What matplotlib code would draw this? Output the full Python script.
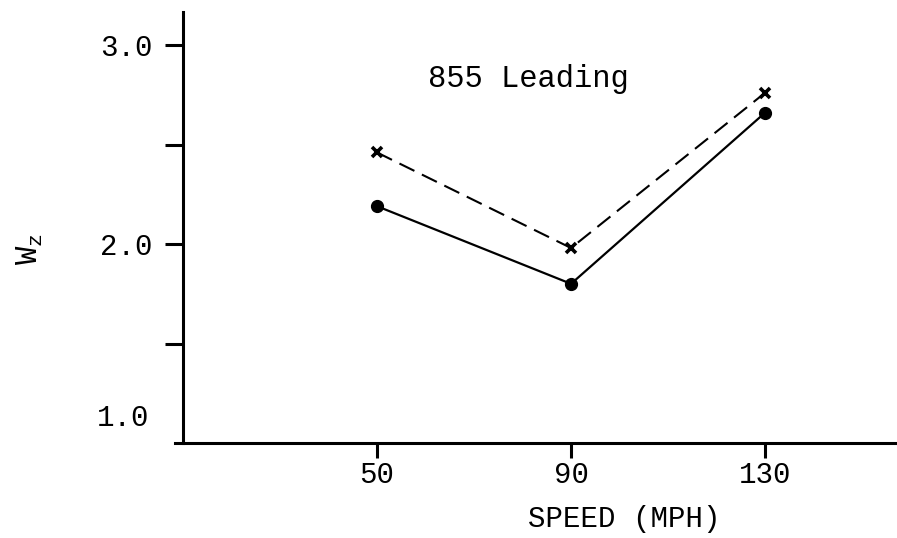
import matplotlib
matplotlib.use("Agg")
import matplotlib.pyplot as plt
from matplotlib.ticker import FixedLocator

plt.rcParams['font.family'] = ['Liberation Mono', 'DejaVu Sans']

# Data
speed = [50, 90, 130]
wz_solid = [2.19, 1.80, 2.66]
wz_dashed = [2.46, 1.98, 2.76]

fig = plt.figure(figsize=(8.97, 5.38), dpi=100)
ax = fig.add_axes([175 / 897, 95 / 538, 722 / 897, 431 / 538])

ax.plot(speed, wz_solid, color='black', lw=1.6, marker='o', ms=8.5)
ax.plot(speed, wz_dashed, color='black', lw=1.5, dashes=(8, 4),
        marker='x', ms=7, mew=2.6)

ax.set_xlim(8.35, 157.2)
ax.set_ylim(1.0, 3.166)

for s in ['top', 'right']:
    ax.spines[s].set_visible(False)
ax.spines['left'].set_position(('data', 10))
ax.spines['left'].set_linewidth(2.2)
ax.spines['bottom'].set_linewidth(2.2)

ax.set_xticks(speed)
ax.set_xticklabels(['50', '90', '130'])
ax.yaxis.set_major_locator(FixedLocator([2.0, 3.0]))
ax.yaxis.set_minor_locator(FixedLocator([1.5, 2.5]))
ax.set_yticklabels(['2.0', '3.0'])

ax.tick_params(axis='x', direction='out', length=11, width=2.2, pad=2,
               labelsize=21)
ax.tick_params(axis='y', which='both', direction='out', length=13, width=2.2,
               pad=9, labelsize=21)

# the 1.0 label sits above the corner, typed by hand
ax.text(-0.035, 1.125, '1.0', transform=ax.get_yaxis_transform(),
        ha='right', va='center', fontsize=21)

ax.text(60.5, 2.79, '855 Leading', fontsize=22, va='baseline', ha='left')

ax.set_xlabel('SPEED (MPH)', fontsize=21)
ax.xaxis.set_label_coords(0.622, -0.145)
ax.set_ylabel(r'$\mathregular{W_z}$', fontsize=22)
ax.yaxis.set_label_coords(-0.18, 0.45)

fig.savefig('out.png', dpi=100)
